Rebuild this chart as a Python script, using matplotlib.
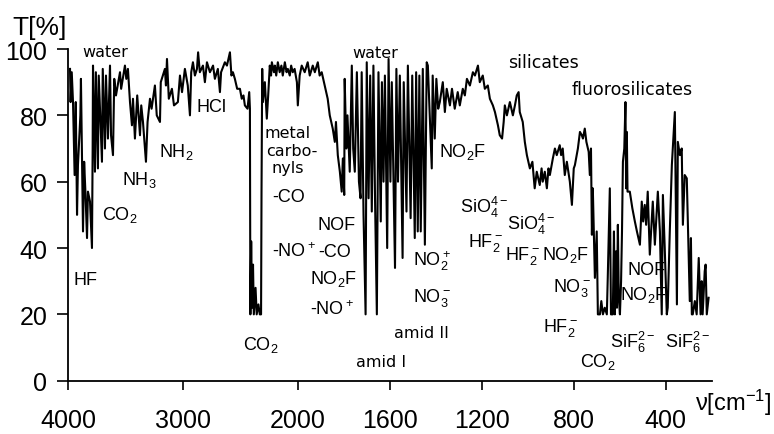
import numpy as np
import matplotlib
matplotlib.use('Agg')
import matplotlib.pyplot as plt

plt.rcParams['font.family'] = ['Liberation Sans', 'DejaVu Sans']
plt.rcParams['mathtext.default'] = 'regular'

# IR spectrum: wavenumber [cm-1] and transmittance [%]
wavenumber = [
    3985, 3980, 3970, 3959, 3945, 3935, 3924, 3916, 3895, 3890,
    3872, 3862, 3850, 3837, 3829, 3811, 3794, 3788, 3785, 3768,
    3760, 3742, 3735, 3707, 3700, 3681, 3672, 3655, 3637, 3628,
    3611, 3600, 3585, 3550, 3540, 3507, 3495, 3481, 3463, 3446,
    3437, 3420, 3400, 3376, 3365, 3350, 3324, 3310, 3289, 3275,
    3246, 3230, 3202, 3195, 3159, 3150, 3141, 3125, 3098, 3080,
    3046, 3028, 3010, 2985, 2960, 2941, 2930, 2915, 2898, 2880,
    2870, 2855, 2828, 2811, 2793, 2767, 2740, 2724, 2698, 2680,
    2670, 2637, 2619, 2593, 2580, 2567, 2550, 2530, 2506, 2490,
    2475, 2463, 2440, 2425, 2419, 2415, 2408, 2400, 2392, 2385,
    2370, 2360, 2345, 2333, 2322, 2318, 2312, 2306, 2289, 2272,
    2260, 2246, 2235, 2228, 2210, 2202, 2190, 2176, 2160, 2145,
    2133, 2115, 2100, 2089, 2072, 2060, 2046, 2030, 2010, 2002,
    1993, 1984, 1971, 1958, 1949, 1936, 1927, 1914, 1906, 1897,
    1884, 1871, 1862, 1849, 1840, 1835, 1827, 1818, 1810, 1805,
    1799, 1797, 1790, 1785, 1775, 1766, 1760, 1753, 1744, 1735,
    1728, 1723, 1715, 1706, 1701, 1693, 1686, 1679, 1672, 1665,
    1657, 1650, 1640, 1635, 1628, 1622, 1612, 1606, 1598, 1592,
    1578, 1572, 1565, 1557, 1545, 1540, 1528, 1522, 1510, 1503,
    1492, 1486, 1479, 1472, 1466, 1457, 1448, 1440, 1435, 1418,
    1414, 1405, 1398, 1390, 1383, 1370, 1361, 1353, 1339, 1330,
    1318, 1305, 1296, 1283, 1274, 1265, 1252, 1239, 1230, 1217,
    1209, 1196, 1187, 1174, 1165, 1152, 1143, 1130, 1122, 1112,
    1105, 1100, 1091, 1078, 1065, 1056, 1048, 1040, 1035, 1022,
    1013, 1004, 991, 980, 970, 961, 948, 940, 935, 926,
    917, 910, 904, 891, 882, 874, 861, 855, 848, 839,
    830, 817, 808, 800, 795, 782, 773, 765, 760, 752,
    745, 735, 730, 725, 721, 717, 708, 700, 695, 686,
    680, 673, 665, 656, 652, 643, 638, 630, 625, 621,
    616, 612, 608, 604, 599, 594, 590, 586, 580, 575,
    572, 569, 566, 556, 545, 534, 525, 512, 504, 498,
    491, 485, 478, 469, 456, 447, 434, 425, 417, 412,
    404, 395, 391, 382, 373, 360, 351, 347, 338, 330,
    325, 317, 308, 295, 290, 286, 282, 273, 265, 256,
    248, 243, 239, 230, 226, 221, 213,
]
transmittance = [
    94, 84, 93, 84, 62, 84, 50, 65, 80, 91,
    45, 66, 56, 43, 57, 54, 40, 70, 95, 63,
    93, 64, 92, 66, 94, 70, 92, 73, 95, 74,
    68, 91, 86, 93, 88, 95, 91, 94, 84, 77,
    85, 73, 86, 74, 83, 78, 66, 78, 85, 82,
    89, 80, 78, 90, 94, 89, 97, 85, 88, 83,
    84, 92, 87, 94, 89, 80, 93, 96, 92, 94,
    99, 93, 95, 90, 96, 93, 95, 91, 94, 87,
    93, 96, 95, 99, 92, 93, 91, 88, 88, 85,
    86, 83, 82, 87, 82, 20, 42, 22, 35, 20,
    28, 20, 23, 20, 20, 57, 94, 84, 90, 79,
    86, 95, 92, 96, 93, 95, 92, 96, 93, 95,
    92, 96, 93, 94, 92, 95, 93, 94, 90, 83,
    92, 95, 93, 96, 92, 95, 93, 96, 92, 93,
    89, 85, 80, 76, 72, 78, 68, 63, 57, 67,
    56, 91, 70, 80, 63, 95, 70, 63, 93, 60,
    55, 93, 50, 20, 96, 55, 92, 51, 95, 55,
    20, 93, 48, 90, 60, 92, 40, 97, 60, 90,
    34, 94, 60, 92, 37, 90, 51, 95, 49, 92,
    43, 93, 45, 92, 45, 94, 41, 96, 95, 64,
    92, 73, 91, 82, 84, 90, 81, 88, 83, 88,
    82, 87, 83, 88, 86, 91, 89, 93, 92, 95,
    90, 92, 88, 89, 85, 83, 81, 77, 74, 73,
    78, 83, 80, 84, 80, 83, 86, 87, 81, 78,
    72, 68, 64, 66, 58, 63, 59, 64, 60, 63,
    58, 64, 62, 67, 70, 68, 71, 68, 70, 62,
    66, 60, 53, 64, 65, 70, 75, 74, 73, 76,
    72, 69, 62, 70, 44, 58, 31, 45, 20, 20,
    24, 20, 22, 20, 31, 58, 20, 20, 45, 20,
    39, 22, 47, 25, 20, 30, 45, 66, 70, 84,
    58, 75, 57, 57, 52, 48, 45, 41, 54, 48,
    53, 47, 57, 38, 54, 41, 57, 45, 20, 56,
    40, 20, 22, 45, 65, 81, 23, 72, 68, 70,
    47, 62, 61, 24, 43, 20, 20, 24, 20, 37,
    20, 30, 20, 33, 35, 20, 25,
]

x_ticks = [4000, 3000, 2000, 1600, 1200, 800, 400]
y_ticks = [0, 20, 40, 60, 80, 100]

# band assignments (text, wavenumber, T at the text baseline)
formula_labels = [
    ('HF', 3959, 29.2),
    ('CO$_2$', 3707, 48.8),
    ('NH$_3$', 3532, 59.3),
    ('NH$_2$', 3211, 67.7),
    ('HCl', 2880, 81.3),
    ('-CO', 2228, 54.2),
    ('-NO$^+$', 2228, 37.6),
    ('CO$_2$', 2480, 9.6),
    ('NOF', 1914, 45.7),
    ('-CO', 1914, 37.6),
    ('NO$_2$F', 1949, 29.5),
    ('-NO$^+$', 1949, 20.1),
    ('NO$_2^+$', 1500, 34.9),
    ('NO$_3^-$', 1500, 24.0),
    ('NO$_2$F', 1387, 67.7),
    ('SiO$_4^{4-}$', 1296, 50.8),
    ('HF$_2^-$', 1261, 40.6),
    ('SiO$_4^{4-}$', 1091, 45.7),
    ('HF$_2^-$', 1100, 36.7),
    ('NO$_2$F', 939, 36.7),
    ('NO$_3^-$', 891, 27.0),
    ('HF$_2^-$', 935, 15.0),
    ('CO$_2$', 773, 4.4),
    ('SiF$_6^{2-}$', 643, 10.2),
    ('SiF$_6^{2-}$', 403, 10.2),
    ('NOF', 565, 32.1),
    ('NO$_2$F', 599, 24.6),
]

word_labels = [
    ('water', 3881, 97.9),
    ('water', 1762, 97.6),
    ('metal', 2289, 73.5),
    ('carbo-', 2280, 68.0),
    ('nyls', 2228, 62.9),
    ('amid I', 1749, 4.4),
    ('amid II', 1583, 13.2),
    ('silicates', 1087, 94.6),
    ('fluorosilicates', 808, 86.5),
]


# the scale is twice as wide below 2000 cm-1
def forward(w):
    w = np.asarray(w, dtype=float)
    return np.where(w >= 2000, w, 2 * w - 2000)


def inverse(f):
    f = np.asarray(f, dtype=float)
    return np.where(f >= 2000, f, (f + 2000) / 2)


fig = plt.figure(figsize=(7.74, 4.35), dpi=100)
ax = fig.add_axes([68.3 / 774, 1 - 381.7 / 435, (711.6 - 68.3) / 774, (381.7 - 50) / 435])

ax.set_xscale('function', functions=(forward, inverse))
ax.plot(wavenumber, transmittance, color='black', lw=1.5, clip_on=False)

ax.set_xlim(4000, 200)
ax.set_ylim(0, 100)
ax.set_xticks(x_ticks)
ax.set_xticklabels([str(t) for t in x_ticks])
ax.set_yticks(y_ticks)
ax.xaxis.set_minor_locator(plt.NullLocator())

for side in ['top', 'right']:
    ax.spines[side].set_visible(False)
for side in ['left', 'bottom']:
    ax.spines[side].set_linewidth(1.3)

ax.tick_params(axis='y', direction='out', length=8, width=1.2, pad=7, labelsize=18)
ax.tick_params(axis='x', direction='out', length=6.5, width=1.2, pad=13, labelsize=18)

for txt, w, t in formula_labels:
    ax.text(w, t, txt, fontsize=13, ha='left', va='baseline', clip_on=False)
for txt, w, t in word_labels:
    size = 12.5 if 'silicates' in txt else 11.5
    ax.text(w, t, txt, fontsize=size, family='DejaVu Sans', ha='left', va='baseline', clip_on=False)

fig.text(12 / 774, 1 - 35 / 435, 'T[%]', fontsize=19, ha='left', va='baseline')
fig.text(695 / 774, 1 - 411 / 435, 'ν[cm$^{-1}$]', fontsize=17, ha='left', va='baseline')

fig.savefig('out.png', dpi=100)
